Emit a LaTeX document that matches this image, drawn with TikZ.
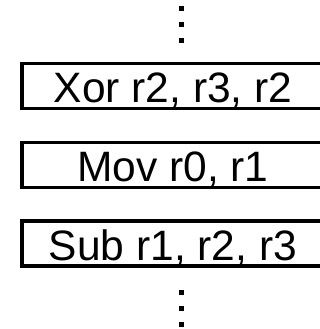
\documentclass[tikz,border=0pt]{standalone}
\usepackage{fontspec}
\setmainfont{Liberation Sans}
\begin{document}
\begin{tikzpicture}[x=1pt,y=-1pt,
  instr/.style={draw=black, line width=3.6pt, inner sep=0pt,
    minimum width=302pt, minimum height=45pt,
    text height=33.4pt, text depth=0pt,
    font=\fontsize{42.5}{50}\selectfont},
  dotmark/.style={fill=black, draw=none, inner sep=0pt, minimum size=5pt}]
  \useasboundingbox (0,0) rectangle (320,329);
  % ellipsis above
  \node[dotmark] (ua) at (181.7,8.5) {};
  \node[dotmark] (ub) at (181.7,24.8) {};
  \node[dotmark] (uc) at (181.7,41) {};
  % instruction sequence
  \node[instr] (i1) at (173,86) {Xor r2, r3, r2};
  \node[instr] (i2) at (173,165) {Mov r0, r1};
  \node[instr] (i3) at (173,243.5) {Sub r1, r2, r3};
  % ellipsis below
  \node[dotmark] (la) at (181.7,292.7) {};
  \node[dotmark] (lb) at (181.7,308.5) {};
  \node[dotmark] (lc) at (181.7,324.3) {};
\end{tikzpicture}
\end{document}
